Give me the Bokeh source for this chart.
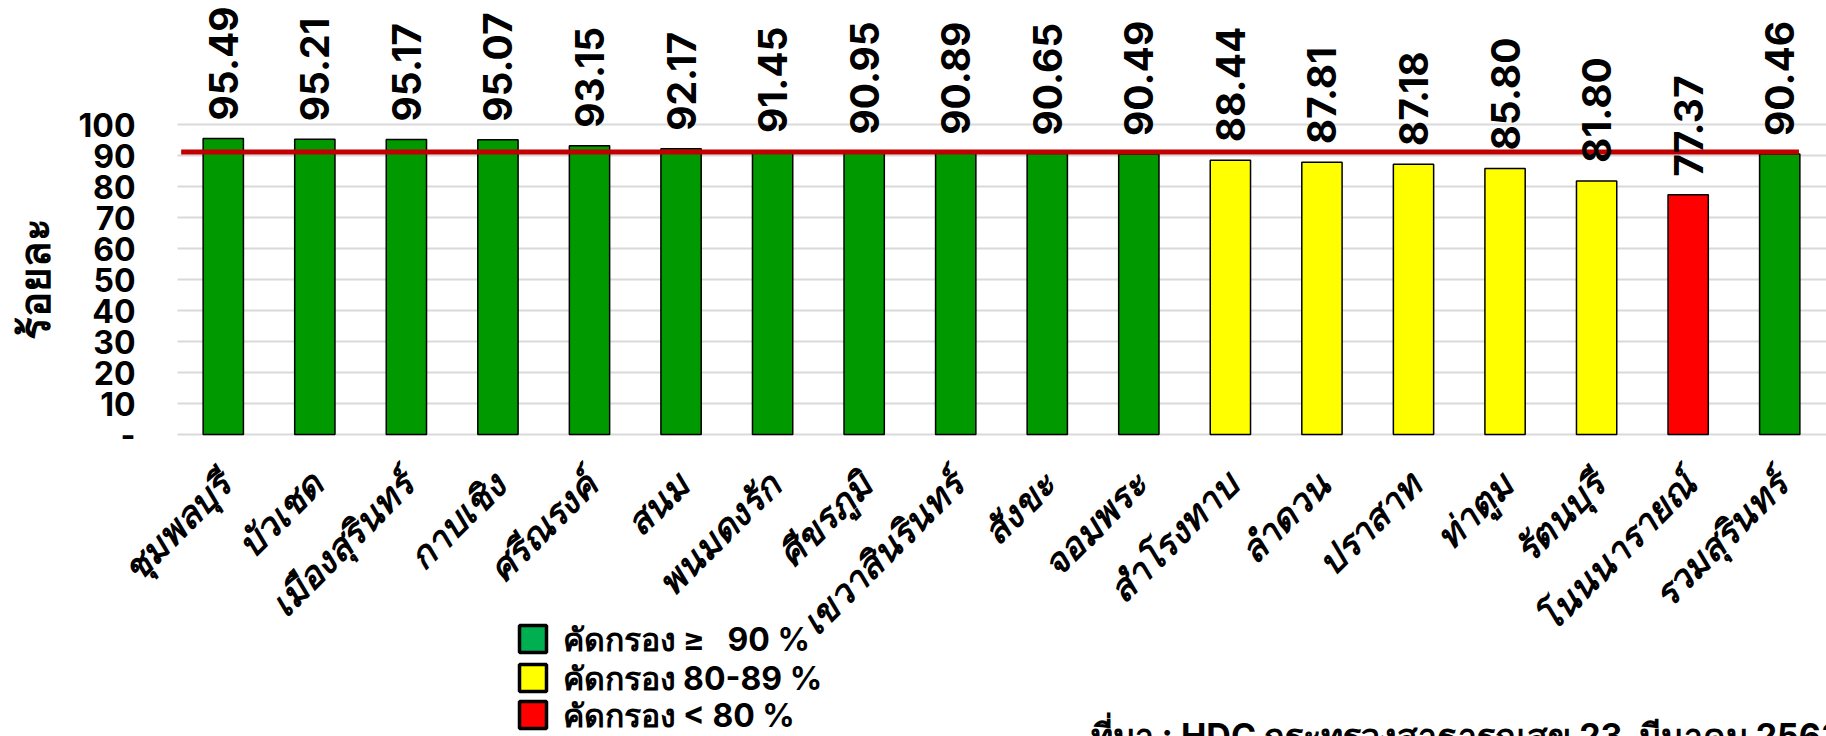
import math
from bokeh.plotting import figure
from bokeh.models import ColumnDataSource, Label, Range1d
from bokeh.core.properties import value
from bokeh.embed import file_html
from bokeh.resources import INLINE

categories = ["ชุมพลบุรี", "บัวเชด", "เมืองสุรินทร์", "กาบเชิง", "ศรีณรงค์", "สนม",
              "พนมดงรัก", "ศีขรภูมิ", "เขวาสินรินทร์", "สังขะ", "จอมพระ", "สำโรงทาบ",
              "ลำดวน", "ปราสาท", "ท่าตูม", "รัตนบุรี", "โนนนารายณ์", "รวมสุรินทร์"]
values = [95.49, 95.21, 95.17, 95.07, 93.15, 92.17, 91.45, 90.95, 90.89, 90.65,
          90.49, 88.44, 87.81, 87.18, 85.80, 81.80, 77.37, 90.46]
target = 91.1
y_ticks = [0, 10, 20, 30, 40, 50, 60, 70, 80, 90, 100]
y_tick_labels = ["-", "10", "20", "30", "40", "50", "60", "70", "80", "90", "100"]
legend_labels = ["คัดกรอง ≥\u00a0\u00a0 90 %", "คัดกรอง 80-89 %", "คัดกรอง < 80 %"]
legend_colors = ["#00b050", "#ffff00", "#ff0000"]
y_title = "ร้อยละ"
source_text = "ที่มา : HDC กระทรวงสาธารณสุข 23\u00a0 มีนาคม 2563"

GREEN, YELLOW, RED = "#009900", "#ffff00", "#ff0000"
colors = [GREEN if v >= 90 else (YELLOW if v >= 80 else RED) for v in values]

NUM_FONT = "Inter"
THAI_FONT = "Tahoma"

W, H = 1826, 736
n = len(categories)
xs = list(range(n))

# layout: category slot width in px, plot-area left edge, zero line position
slot = 1648 / n
left_px = 177
zero_px = 434
px_per_unit = 3.1
x_start = -0.5 - left_px / slot
x_end = x_start + W / slot
y_top = zero_px / px_per_unit
y_bot = y_top - H / px_per_unit


def xd(px):
    return x_start + px / slot


def yd(py):
    return y_top - py / px_per_unit


def dx(px):
    return px / slot


def dy(px):
    return px / px_per_unit


src = ColumnDataSource(dict(
    x=xs, cat=categories, val=values, color=colors,
    txt=["%.2f" % v for v in values],
    lab_y=[v + dy(18) for v in values],
    cat_x=[i + dx(2) for i in xs],
    cat_y=[-dy(45)] * n))

p = figure(width=W, height=H, x_range=Range1d(x_start, x_end),
           y_range=Range1d(y_bot, y_top), output_backend="svg",
           toolbar_location=None, x_axis_location=None, y_axis_location=None,
           min_border=0)
p.outline_line_color = None
p.grid.grid_line_color = None
p.background_fill_color = "white"
p.border_fill_color = "white"

# horizontal gridlines over the plot area
p.segment(x0=[-0.5] * len(y_ticks), x1=[x_end] * len(y_ticks), y0=y_ticks,
          y1=y_ticks, line_color="#d9d9d9", line_width=2)

# y tick labels
tsrc = ColumnDataSource(dict(x=[-0.5 - dx(42)] * len(y_ticks), y=y_ticks,
                             t=y_tick_labels))
p.text(x="x", y="y", text="t", source=tsrc, text_align="right",
       text_baseline="middle", text_font=value(NUM_FONT),
       text_font_style="bold", text_font_size="32px", text_color="black")

p.vbar(x="x", top="val", width=0.44, bottom=0, source=src,
       fill_color="color", line_color="black", line_width=1.5)

p.segment(x0=[xs[0] - 0.46], x1=[xs[-1] + 0.21], y0=[target], y1=[target],
          line_color="#c00000", line_width=5)

p.text(x="x", y="lab_y", text="txt", source=src, angle=math.pi / 2,
       text_align="left", text_baseline="middle", text_font=value(NUM_FONT),
       text_font_style="bold", text_font_size="39px", text_color="black")

p.text(x="cat_x", y="cat_y", text="cat", source=src, angle=math.pi / 4,
       text_align="right", text_baseline="middle", text_font=value(THAI_FONT),
       text_font_style="bold italic", text_font_size="36px", text_color="black")

p.add_layout(Label(x=xd(35), y=yd(278), text=y_title, angle=math.pi / 2,
                   text_align="center", text_baseline="middle",
                   text_font=THAI_FONT, text_font_style="bold",
                   text_font_size="42px", text_color="black"))

# legend
row_y = [638.5, 677.5, 714.5]
p.rect(x=[xd(532.5)] * 3, y=[yd(v) for v in row_y], width=27, height=27,
       width_units="screen", height_units="screen", fill_color=legend_colors,
       line_color="black", line_width=3.5)
lsrc = ColumnDataSource(dict(x=[xd(562)] * 3, y=[yd(v) for v in row_y],
                             t=legend_labels))
p.text(x="x", y="y", text="t", source=lsrc, text_align="left",
       text_baseline="middle", text_font=value(NUM_FONT),
       text_font_style="bold", text_font_size="32px", text_color="black")

p.add_layout(Label(x=xd(1090), y=yd(714), text=source_text, text_align="left",
                   text_baseline="top", text_font=NUM_FONT,
                   text_font_style="bold", text_font_size="34px",
                   text_color="black"))

open("out.html", "w").write(file_html(p, INLINE))
